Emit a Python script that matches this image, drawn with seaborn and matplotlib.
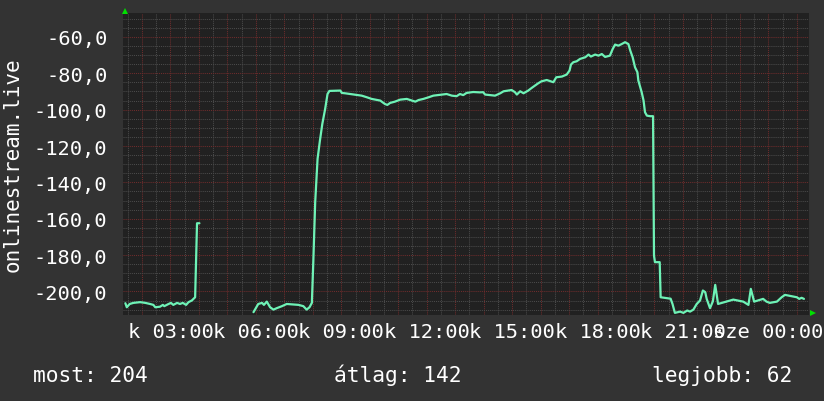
import matplotlib
matplotlib.use("Agg")
import matplotlib.pyplot as plt
from matplotlib.ticker import MultipleLocator, FuncFormatter
import pandas as pd
import seaborn as sns

# ---- data (minutes since 00:00 of day "k", signal value) ----
seg1_minutes = [85, 88, 94, 102, 116, 127, 137, 144, 148, 158, 164, 167, 176, 181,
                186, 194, 200, 206, 213, 218, 225, 232, 236, 241]
seg1_values = [-206.5, -208.7, -206.9, -206.3, -205.9, -206.3, -206.9, -207.4, -208.7,
               -208.4, -207.4, -208.1, -206.9, -206.3, -207.4, -206.3, -206.9, -206.3,
               -207.4, -205.9, -205.0, -203.2, -162.5, -162.5]

seg2_minutes = [355, 365, 373, 377, 383, 390, 397, 404, 415, 425, 450, 460, 467, 473,
                478, 481, 485, 490, 495, 500, 506, 511, 515, 538, 541, 548, 573, 583,
                594, 604, 622, 632, 637, 643, 653, 664, 678, 689, 696, 703, 713, 724,
                734, 762, 773, 783, 790, 797, 804, 818, 832, 839, 843, 864, 875, 882,
                892, 899, 906, 910, 917, 924, 934, 941, 948, 955, 962, 973, 987, 993,
                1005, 1015, 1021, 1024, 1029, 1036, 1043, 1054, 1061, 1066, 1075, 1082,
                1089, 1096, 1106, 1112, 1117, 1124, 1131, 1138, 1145, 1149, 1154, 1159,
                1164, 1166, 1173, 1177, 1180, 1184, 1191, 1197, 1199, 1201, 1211, 1213,
                1226, 1234, 1238, 1243, 1254, 1261, 1269, 1275, 1282, 1289, 1296, 1302,
                1307, 1310, 1317, 1323, 1328, 1334, 1342, 1366, 1387, 1398, 1403, 1410,
                1429, 1436, 1443, 1458, 1468, 1475, 1500, 1505, 1510, 1515]
seg2_values = [-211.4, -206.9, -206.3, -207.4, -205.6, -208.7, -210.0, -209.2, -208.1,
               -206.9, -207.4, -208.1, -210.0, -208.7, -206.3, -184.0, -151.0, -127.1,
               -117.0, -107.9, -99.6, -91.4, -89.7, -89.5, -90.8, -91.0, -91.9, -92.3,
               -93.2, -94.1, -95.0, -96.9, -97.4, -96.3, -95.6, -94.5, -94.1, -95.0,
               -95.6, -94.7, -94.1, -93.2, -92.3, -91.4, -92.3, -92.6, -91.4, -92.0,
               -90.8, -90.3, -90.5, -90.4, -91.7, -92.3, -91.0, -89.9, -89.5, -89.2,
               -90.4, -91.7, -89.9, -91.0, -89.5, -88.1, -86.8, -85.5, -84.4, -83.7,
               -84.9, -82.2, -81.8, -80.7, -78.5, -75.2, -73.9, -73.4, -72.1, -71.2,
               -69.7, -70.8, -69.7, -70.3, -69.4, -71.0, -70.3, -66.6, -64.2, -64.8,
               -63.9, -62.9, -63.9, -67.5, -71.2, -76.7, -79.4, -84.0, -90.4, -95.0,
               -101.4, -103.3, -103.6, -103.6, -180.3, -183.9, -183.9, -203.2, -203.7,
               -204.0, -206.9, -211.8, -211.1, -211.8, -210.5, -211.1, -210.0, -206.9,
               -205.0, -199.5, -200.4, -204.1, -209.2, -205.5, -196.4, -206.9, -206.3,
               -204.5, -205.6, -207.4, -198.6, -205.6, -204.1, -205.6, -206.3, -205.6,
               -203.2, -201.9, -203.2, -204.1, -203.5, -204.1]

day_names = ["k", "sze"]
y_label = "onlinestream.live"
stat_labels = ["most: 204", "átlag: 142", "legjobb: 62"]

df = pd.DataFrame({
    "minute": seg1_minutes + seg2_minutes,
    "value": seg1_values + seg2_values,
    "segment": [1] * len(seg1_minutes) + [2] * len(seg2_minutes),
})

# ---- style ----
BG = "#333333"
PLOT_BG = "#212121"
LINE = "#6ef2b6"
MAJOR = "#6e2c2c"
MINOR = "#4a4a4a"
ARROW = "#00e000"

sns.set_style("dark")
plt.rcParams["font.family"] = ["DejaVu Sans Mono", "DejaVu Sans"]

W, H = 824, 402
fig = plt.figure(figsize=(W / 100, H / 100), dpi=100, facecolor=BG)
L, R, T, B = 123, 808.7, 14.3, 315.7
ax = fig.add_axes([L / W, 1 - B / H, (R - L) / W, (B - T) / H])
ax.set_facecolor(PLOT_BG)

sns.lineplot(data=df, x="minute", y="value", units="segment", estimator=None,
             color=LINE, linewidth=1.6, ax=ax, legend=False)

ax.set_xlim(80, 1525)
ax.set_ylim(-212.8, -47)
ax.set_xlabel("")
ax.set_ylabel("")

ax.xaxis.set_major_locator(MultipleLocator(60))
ax.xaxis.set_minor_locator(MultipleLocator(30))
ax.yaxis.set_major_locator(MultipleLocator(20))
ax.yaxis.set_minor_locator(MultipleLocator(5))


def xfmt(m, pos):
    m = int(round(m))
    if m % 180 != 0:
        return ""
    day = day_names[m // 1440]
    return f"{day} {(m % 1440) // 60:02d}:00"


ax.xaxis.set_major_formatter(FuncFormatter(xfmt))
ax.yaxis.set_major_formatter(FuncFormatter(lambda v, p: f"{v:.1f}".replace(".", ",")))

ax.grid(which="minor", color=MINOR, linestyle=(0, (1, 1)), linewidth=0.75)
ax.grid(which="major", color=MAJOR, linestyle=(0, (1, 1)), linewidth=0.75)
ax.set_axisbelow(True)

ax.tick_params(which="both", length=0, colors="white")
ax.tick_params(axis="y", labelsize=14.7, pad=11.3)
ax.tick_params(axis="x", labelsize=14.7, pad=5.5)
for s in ax.spines.values():
    s.set_visible(False)

# axis arrows
ax.plot([0.003], [1.008], marker="^", color=ARROW, markersize=4.5, markeredgewidth=0,
        transform=ax.transAxes, clip_on=False)
ax.plot([1.0067], [0.005], marker=">", color=ARROW, markersize=4.5, markeredgewidth=0,
        transform=ax.transAxes, clip_on=False)

fig.text(13 / W, 1 - 165 / H, y_label, rotation=90, ha="center", va="center",
         color="white", fontsize=15)

stat_x = [33, 334, 651.6]
for xs, txt in zip(stat_x, stat_labels):
    fig.text(xs / W, 1 - 381.7 / H, txt, ha="left", va="baseline", color="white",
             fontsize=15.3)

fig.savefig("out.png", dpi=100, facecolor=BG)
